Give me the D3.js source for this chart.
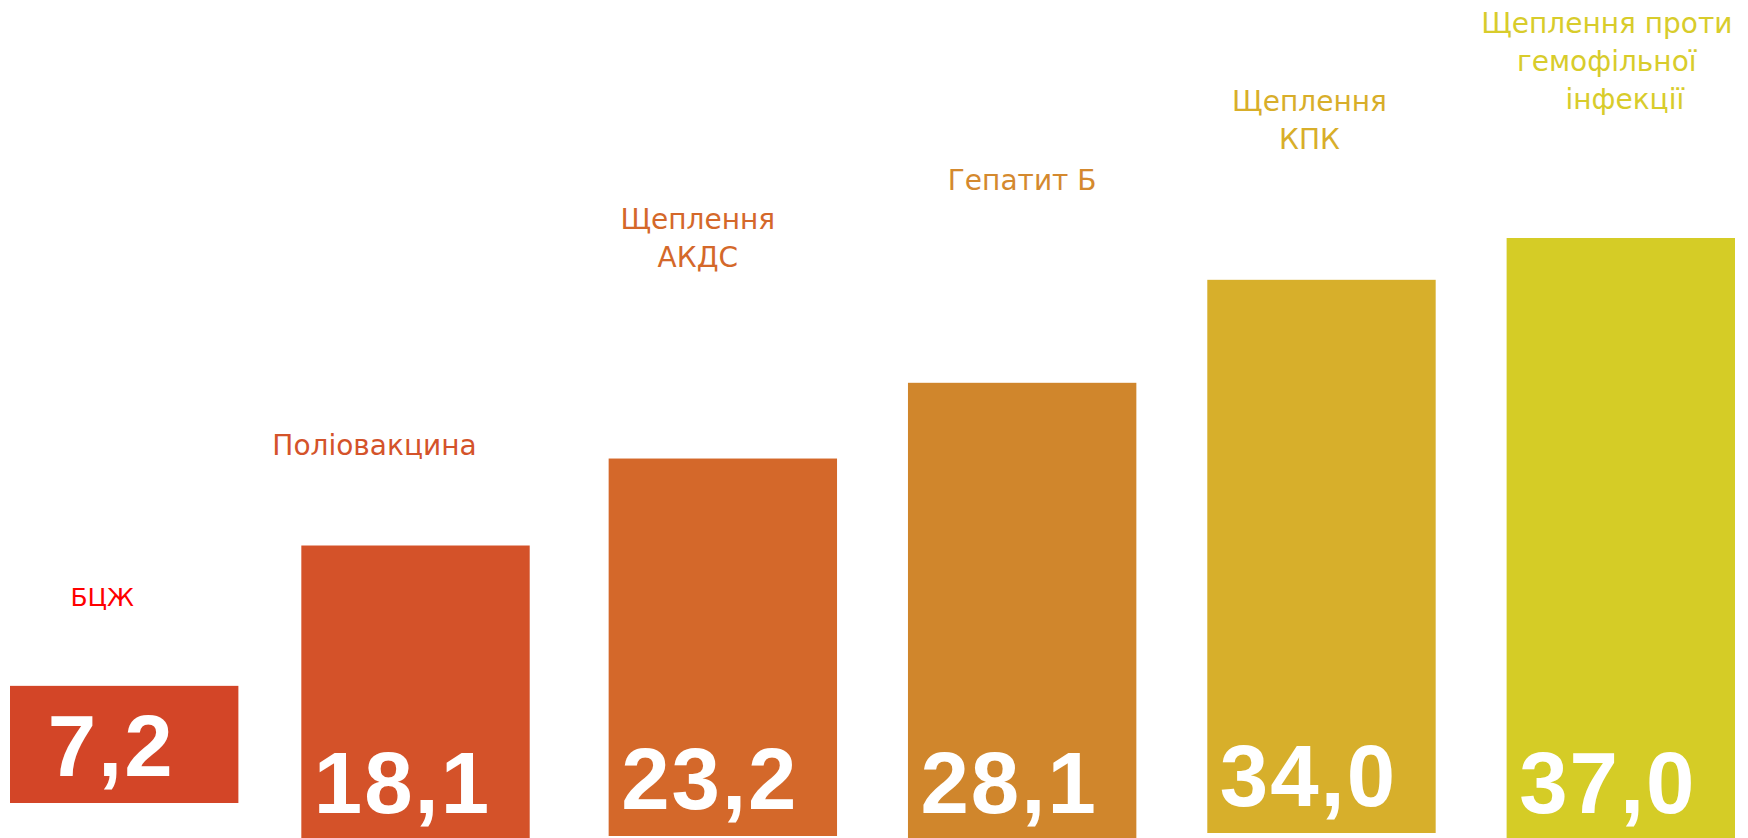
<!DOCTYPE html>
<html>
<head>
<meta charset="utf-8">
<script src="https://cdn.jsdelivr.net/npm/d3@7"></script>
<style>
  body { margin: 0; background: #fff; }
</style>
</head>
<body>
<div id="chart"></div>
<script>
// data
let categories = ["БЦЖ", "Поліовакцина", "Щеплення АКДС", "Гепатит Б", "Щеплення КПК", "Щеплення проти гемофільної інфекції"];
let labelLines = [["БЦЖ"], ["Поліовакцина"], ["Щеплення", "АКДС"], ["Гепатит Б"], ["Щеплення", "КПК"], ["Щеплення проти", "гемофільної", "інфекції"]];
let values = [7.2, 18.1, 23.2, 28.1, 34.0, 37.0];
let valueLabels = ["7,2", "18,1", "23,2", "28,1", "34,0", "37,0"];

// colours
let barColors = ["#D34527", "#D45229", "#D4682A", "#D0862C", "#D7AF2B", "#D5CC26"];
let textColors = ["#FF0000", "#D4532A", "#D4682A", "#D4892E", "#D8AE2A", "#D8CC2B"];

// layout (the bars sit on slightly different baselines, like in the slide)
let w = 1748;
let h = 838;
let barBottom = [803, 840, 836, 840, 833, 840];
let barDx = [0, -8, 0, 0, 0, 0];
let labelDx = [-22, -41, -25, 0, -12, -14];
let labelTop = [606, 455, 229, 190, 111, 33];
let lineHeight = 38;

let svg = d3.select("#chart").append("svg")
    .attr("width", w)
    .attr("height", h)
    .style("display", "block");

let xScale = d3.scaleBand()
    .domain(categories)
    .range([10, 1735])
    .paddingInner(0.237)
    .paddingOuter(0);

let hScale = d3.scaleLinear()
    .domain([0, 37])
    .range([0, 602]);

let barX = (i) => xScale(categories[i]) + barDx[i];

let bars = svg.selectAll(".bar")
    .data(values)
    .join("g")
    .attr("class", "bar");

bars.append("rect")
    .attr("x", (d, i) => barX(i))
    .attr("y", (d, i) => barBottom[i] - hScale(d))
    .attr("width", xScale.bandwidth())
    .attr("height", d => hScale(d))
    .attr("fill", (d, i) => barColors[i]);

bars.append("text")
    .attr("x", (d, i) => barX(i) + xScale.bandwidth() / 2 - 13)
    .attr("y", (d, i) => barBottom[i] - 27)
    .attr("text-anchor", "middle")
    .attr("font-family", "'Liberation Sans', Arial, sans-serif")
    .attr("font-weight", "bold")
    .attr("font-size", 87)
    .attr("letter-spacing", 2)
    .attr("fill", "white")
    .text((d, i) => valueLabels[i]);

// category labels above the bars
let labels = svg.selectAll(".cat")
    .data(labelLines)
    .join("text")
    .attr("class", "cat")
    .attr("text-anchor", "middle")
    .attr("font-family", "'DejaVu Sans', Verdana, sans-serif")
    .attr("font-size", (d, i) => i == 0 ? 25 : 28)
    .attr("fill", (d, i) => textColors[i]);

labels.each(function(lines, i) {
    let cx = barX(i) + xScale.bandwidth() / 2 + labelDx[i];
    d3.select(this).selectAll("tspan")
        .data(lines)
        .join("tspan")
        .attr("x", (l, j) => (i == 5 && j == 2) ? cx + 18 : cx)
        .attr("y", (l, j) => labelTop[i] + j * lineHeight)
        .text(l => l);
});
</script>
</body>
</html>
